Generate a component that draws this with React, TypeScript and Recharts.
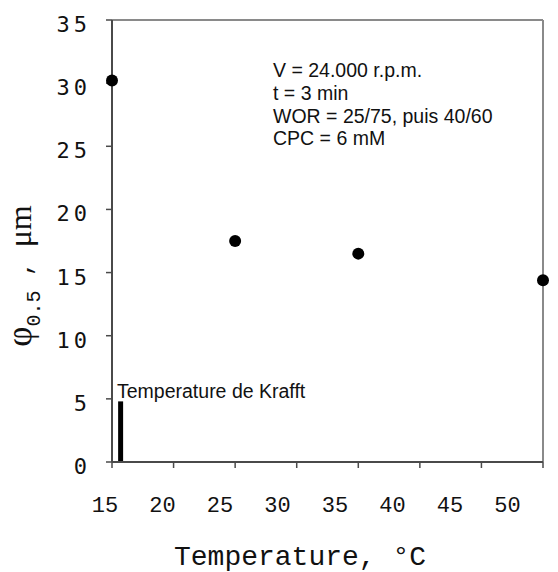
import { Customized, ReferenceLine, Scatter, ScatterChart, XAxis, YAxis } from 'recharts';

const temperatures = [15, 25, 35, 50];
const diameters = [30.2, 17.5, 16.5, 14.4];
const xTicks = [15, 20, 25, 30, 35, 40, 45, 50];
const yTicks = [0, 5, 10, 15, 20, 25, 30, 35];
const krafftTemperature = 15.7;
const krafftMarkerHeight = 4.8;
const krafftLabel = 'Temperature de Krafft';
const conditions = ['V = 24.000 r.p.m.', 't = 3 min', 'WOR = 25/75, puis 40/60', 'CPC = 6 mM'];

const points = temperatures.map((t, i) => ({ t, d: diameters[i] }));

const PLOT_LEFT = 112;
const AXIS = '#4a4a4a';
const FRAME = '#8a8a8a';

// excel spaced the x labels a bit tighter than the ticks
function XTick(props: any) {
  const { x, y, payload } = props;
  const lx = PLOT_LEFT + (x - PLOT_LEFT) * 0.934 - 7;
  return (
    <text x={lx} y={y + 44} textAnchor="middle" fontFamily="Liberation Mono" fontSize={22} fill="#111">
      {payload.value}
    </text>
  );
}

function YTick(props: any) {
  const { x, y, payload } = props;
  return (
    <text x={x - 15} y={y + 12} textAnchor="end" fontFamily="DejaVu Sans Mono" fontSize={22} letterSpacing={4} fill="#111">
      {payload.value}
    </text>
  );
}

function Dot(props: any) {
  return <circle cx={props.cx} cy={props.cy} r={6} fill="#000" />;
}

function Annotations() {
  return (
    <g>
      {conditions.map((line, i) => (
        <text key={line} x={273} y={77 + i * 22.8} fontFamily="Liberation Sans" fontSize={19.5} fill="#111">
          {line}
        </text>
      ))}
      <text x={117} y={398} fontFamily="Liberation Sans" fontSize={19.5} fill="#111">
        {krafftLabel}
      </text>
      <text x={300} y={565} textAnchor="middle" fontFamily="Liberation Mono" fontSize={28} fill="#111">
        Temperature, °C
      </text>
      <text transform="translate(31,276) rotate(-90)" textAnchor="middle" fill="#111">
        <tspan fontFamily="Liberation Serif" fontSize={35}>φ</tspan>
        <tspan fontFamily="Liberation Mono" fontSize={20} dy={9}>0.5</tspan>
        <tspan fontFamily="Liberation Mono" fontSize={24} dy={-9}>{'  ,  '}</tspan>
        <tspan fontFamily="Liberation Serif" fontSize={32}>μm</tspan>
      </text>
    </g>
  );
}

export default function App() {
  return (
    <div style={{ position: 'absolute', left: 0, top: 0, background: '#fff' }}>
      <ScatterChart width={558} height={572} margin={{ top: 20, right: 15, bottom: 0, left: 0 }}>
        <ReferenceLine y={35} stroke={FRAME} strokeWidth={2} />
        <ReferenceLine x={50} stroke={FRAME} strokeWidth={2} />
        <XAxis
          type="number"
          dataKey="t"
          domain={[15, 50]}
          ticks={xTicks}
          interval={0}
          height={110}
          tickSize={6}
          tickMargin={0}
          axisLine={{ stroke: AXIS, strokeWidth: 2 }}
          tickLine={{ stroke: AXIS, strokeWidth: 1.5 }}
          tick={<XTick />}
        />
        <YAxis
          type="number"
          dataKey="d"
          domain={[0, 35]}
          ticks={yTicks}
          interval={0}
          width={112}
          tickSize={6}
          tickMargin={0}
          axisLine={{ stroke: AXIS, strokeWidth: 2 }}
          tickLine={{ stroke: AXIS, strokeWidth: 1.5 }}
          tick={<YTick />}
        />
        <ReferenceLine
          segment={[
            { x: krafftTemperature, y: 0 },
            { x: krafftTemperature, y: krafftMarkerHeight },
          ]}
          stroke="#000"
          strokeWidth={5}
        />
        <Scatter data={points} fill="#000" shape={<Dot />} isAnimationActive={false} />
        <Customized component={Annotations} />
      </ScatterChart>
    </div>
  );
}
